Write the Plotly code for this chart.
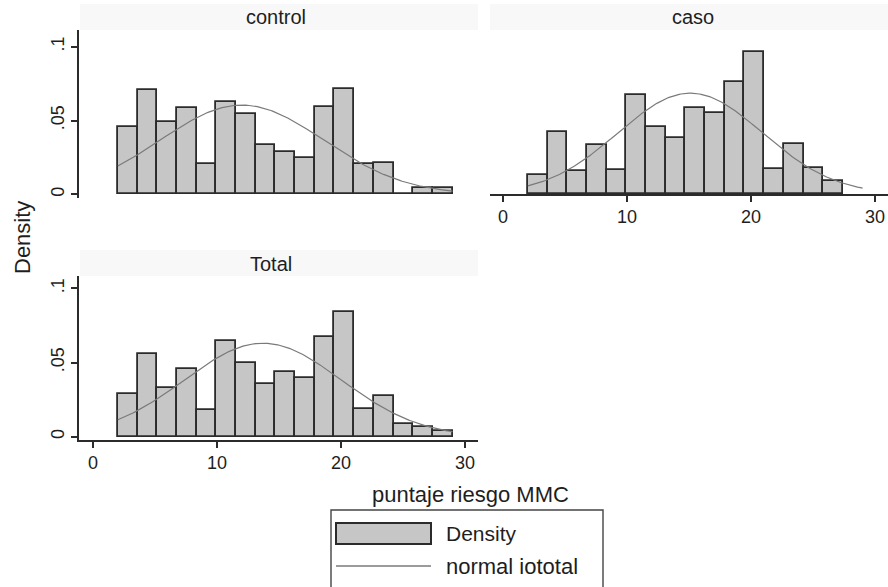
import numpy as np
import plotly.graph_objects as go

W, H = 888, 587

# ---- data ----
bin_start = 2.0
bin_width = 27 / 17
control_density = [0.0454, 0.0707, 0.0492, 0.0582, 0.0205, 0.0623, 0.0544, 0.0334,
                   0.0289, 0.0244, 0.0589, 0.0711, 0.0203, 0.0210, 0.0, 0.0041, 0.0041]
caso_density = [0.0126, 0.0418, 0.0158, 0.0334, 0.0165, 0.0673, 0.0458, 0.0379,
                0.0587, 0.0549, 0.0763, 0.0967, 0.0172, 0.0339, 0.0176, 0.0090]
total_density = [0.0285, 0.0557, 0.0326, 0.0454, 0.0180, 0.0647, 0.0499, 0.0353,
                 0.0438, 0.0398, 0.0670, 0.0838, 0.0190, 0.0276, 0.0085, 0.0067, 0.0040]
# fitted normal parameters (mean, sd) per panel
normal_params = {"control": (12.0, 6.6), "caso": (15.1, 5.83), "Total": (13.7, 6.33)}
curve_range = (2.0, 29.0)
x_ticks = [0, 10, 20, 30]
y_ticks = [0, 0.05, 0.1]
y_ticklabels = ["0", ".05", ".1"]

BAR_FILL = "#c6c6c6"
BAR_LINE = "#2b2b2b"
CURVE = "#7a7a7a"
TXT = "#1e1e1e"
FONT = "Liberation Sans, Arial, sans-serif"


def px_x(p):
    return p / W


def px_y(p):
    return 1 - p / H


fig = go.Figure()

panels = [
    # name, density, xaxis, yaxis, x pixel domain, x range, y pixel domain, y range, showx, showy
    ("control", control_density, "x", "y", (79, 478), (-1.13, 31.05), (30, 198), (-0.0025, 0.1113), False, True),
    ("caso", caso_density, "x2", "y2", (490, 888), (-1.05, 31.05), (30, 194), (0.0, 0.1113), True, False),
    ("Total", total_density, "x3", "y3", (79, 478), (-1.13, 31.05), (276, 440), (-0.0022, 0.1083), True, True),
]

for name, dens, xa, ya, xd, xr, yd, yr, showx, showy in panels:
    centers = [bin_start + (i + 0.5) * bin_width for i in range(len(dens))]
    fig.add_trace(go.Bar(x=centers, y=dens, width=bin_width, xaxis=xa, yaxis=ya,
                         marker=dict(color=BAR_FILL, line=dict(color=BAR_LINE, width=1.8)),
                         showlegend=False))
    m, s = normal_params[name]
    xs = np.linspace(curve_range[0], curve_range[1], 200)
    ys = np.exp(-0.5 * ((xs - m) / s) ** 2) / (s * np.sqrt(2 * np.pi))
    fig.add_trace(go.Scatter(x=xs, y=ys, mode="lines", xaxis=xa, yaxis=ya,
                             line=dict(color=CURVE, width=1.2), showlegend=False))
    suffix = xa[1:]
    xkey = "xaxis" + suffix
    ykey = "yaxis" + suffix
    fig.layout[xkey] = dict(domain=[px_x(xd[0]), px_x(xd[1])], range=list(xr), anchor=ya,
                            showgrid=False, zeroline=False, showline=showx, linecolor=BAR_LINE,
                            linewidth=1.6, ticks="outside" if showx else "", ticklen=6,
                            tickcolor=BAR_LINE, tickwidth=1.6,
                            tickvals=x_ticks if showx else [], showticklabels=showx,
                            tickfont=dict(family=FONT, size=18, color=TXT))
    fig.layout[ykey] = dict(domain=[px_y(yd[1]), px_y(yd[0])], range=list(yr), anchor=xa,
                            showgrid=False, zeroline=False, showline=showy, linecolor=BAR_LINE,
                            linewidth=1.6, ticks="outside" if showy else "", ticklen=6,
                            tickcolor=BAR_LINE, tickwidth=1.6,
                            tickvals=y_ticks if showy else [], ticktext=y_ticklabels,
                            showticklabels=showy, tickangle=-90,
                            tickfont=dict(family=FONT, size=18, color=TXT))

annotations = [
    dict(text="control", x=px_x(276), y=px_y(17)),
    dict(text="caso", x=px_x(693), y=px_y(17)),
    dict(text="Total", x=px_x(271), y=px_y(264)),
]
anns = []
for a in annotations:
    anns.append(dict(text=a["text"], x=a["x"], y=a["y"], xref="paper", yref="paper",
                     showarrow=False, xanchor="center", yanchor="middle",
                     font=dict(family=FONT, size=20, color=TXT)))
anns.append(dict(text="Density", x=px_x(22), y=px_y(238), xref="paper", yref="paper",
                 showarrow=False, textangle=-90, xanchor="center", yanchor="middle",
                 font=dict(family=FONT, size=22, color=TXT)))
anns.append(dict(text="puntaje riesgo MMC", x=px_x(470), y=px_y(494), xref="paper", yref="paper",
                 showarrow=False, xanchor="center", yanchor="middle",
                 font=dict(family=FONT, size=22, color=TXT)))
anns.append(dict(text="Density", x=px_x(444), y=px_y(533), xref="paper", yref="paper",
                 showarrow=False, xanchor="left", yanchor="middle",
                 font=dict(family=FONT, size=21, color=TXT)))
anns.append(dict(text="normal iototal", x=px_x(444), y=px_y(566), xref="paper", yref="paper",
                 showarrow=False, xanchor="left", yanchor="middle",
                 font=dict(family=FONT, size=22, color=TXT)))

shapes = [
    # faint title strips
    dict(type="rect", xref="paper", yref="paper", x0=px_x(80), x1=px_x(478), y0=px_y(30), y1=px_y(4),
         fillcolor="#f8f8f8", line=dict(width=0), layer="below"),
    dict(type="rect", xref="paper", yref="paper", x0=px_x(490), x1=px_x(888), y0=px_y(30), y1=px_y(4),
         fillcolor="#f8f8f8", line=dict(width=0), layer="below"),
    dict(type="rect", xref="paper", yref="paper", x0=px_x(80), x1=px_x(478), y0=px_y(276), y1=px_y(250),
         fillcolor="#f8f8f8", line=dict(width=0), layer="below"),
    # legend box
    dict(type="rect", xref="paper", yref="paper", x0=px_x(331), x1=px_x(603), y0=px_y(592), y1=px_y(510),
         fillcolor="rgba(0,0,0,0)", line=dict(color="#444444", width=1.4)),
    dict(type="rect", xref="paper", yref="paper", x0=px_x(336), x1=px_x(431), y0=px_y(544), y1=px_y(523),
         fillcolor=BAR_FILL, line=dict(color=BAR_LINE, width=2)),
    dict(type="line", xref="paper", yref="paper", x0=px_x(336), x1=px_x(431), y0=px_y(566), y1=px_y(566),
         line=dict(color=CURVE, width=1.4)),
]

fig.update_layout(width=W, height=H, margin=dict(l=0, r=0, t=0, b=0),
                  paper_bgcolor="white", plot_bgcolor="white", bargap=0,
                  annotations=anns, shapes=shapes, showlegend=False)

fig.write_html("out.html")
